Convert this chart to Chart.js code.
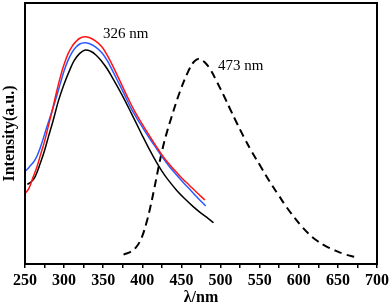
<!DOCTYPE html>
<html>
<head>
<meta charset="utf-8">
<script src="https://cdn.jsdelivr.net/npm/chart.js@4/dist/chart.umd.min.js"></script>
<style>
html,body{margin:0;padding:0;background:#fff;}
#wrap{width:392px;height:303px;}
</style>
</head>
<body>
<div id="wrap"><canvas id="c" width="392" height="303"></canvas></div>
<script>
// ---- data ----
const xTicks = [250, 300, 350, 400, 450, 500, 550, 600, 650, 700];

const redNm = [250,255,260,265,270,275,280,285,290,295,300,305,310,315,320,326,332,340,348,355,362,370,377,385,393,401,410,418,425,435,445,452,460,470,480];
const redInt = [0.27,0.29,0.33,0.37,0.42,0.47,0.53,0.59,0.655,0.715,0.765,0.805,0.833,0.852,0.865,0.871,0.868,0.855,0.833,0.80,0.76,0.71,0.665,0.615,0.57,0.53,0.487,0.45,0.418,0.38,0.347,0.325,0.302,0.273,0.245];

const blueNm = [250,255,263,270,278,285,289,295,300,305,310,315,320,326,332,340,348,355,362,370,377,385,393,401,410,418,425,435,445,452,460,470,481];
const blueInt = [0.354,0.37,0.40,0.45,0.526,0.59,0.628,0.69,0.74,0.78,0.81,0.83,0.843,0.848,0.845,0.832,0.81,0.78,0.74,0.692,0.65,0.60,0.558,0.52,0.478,0.443,0.412,0.372,0.337,0.313,0.288,0.256,0.222];

const blackNm = [253,258,263,270,275,280,286,293,300,307,313,320,327,334,341,348,355,362,370,378,386,393,400,408,418,425,432,444,455,465,475,484,491];
const blackInt = [0.305,0.315,0.335,0.39,0.435,0.488,0.55,0.628,0.69,0.742,0.78,0.807,0.82,0.815,0.80,0.777,0.748,0.712,0.67,0.625,0.577,0.535,0.492,0.445,0.39,0.356,0.326,0.282,0.248,0.22,0.195,0.175,0.158];

const dashNm = [376,386,393,399,405,410,415,420,425,430,437,448,459,466,473,480,487,495,505,512,520,530,540,550,563,575,582,590,602,612,623,635,644,658,672];
const dashInt = [0.036,0.048,0.068,0.1,0.155,0.215,0.285,0.36,0.43,0.49,0.56,0.66,0.74,0.775,0.786,0.772,0.745,0.70,0.64,0.595,0.545,0.485,0.43,0.38,0.315,0.26,0.228,0.195,0.15,0.118,0.09,0.068,0.055,0.038,0.027];

const annotationText = ['326 nm', '473 nm'];
const annotationNm = [349.7, 496.7];
const annotationInt = [0.88, 0.76];

const xTitle = 'λ/nm';
const yTitle = 'Intensity(a.u.)';

function pts(xs, ys){ return xs.map((x,i)=>({x:x, y:ys[i]})); }

const serif = "'Liberation Serif', 'Times New Roman', serif";

const framePlugin = {
  id: 'frame',
  afterDatasetsDraw(chart){
    const {ctx, chartArea:a, scales} = chart;
    ctx.save();
    ctx.strokeStyle = '#000';
    ctx.lineWidth = 2;
    ctx.strokeRect(a.left, a.top, a.right - a.left, a.bottom - a.top);
    ctx.fillStyle = '#000';
    ctx.font = '15px ' + serif;
    ctx.textAlign = 'left';
    ctx.textBaseline = 'middle';
    annotationText.forEach((t,i)=>{
      ctx.fillText(t, scales.x.getPixelForValue(annotationNm[i]), scales.y.getPixelForValue(annotationInt[i]));
    });
    ctx.restore();
  }
};

new Chart(document.getElementById('c'), {
  type: 'line',
  data: {
    datasets: [
      {data: pts(redNm, redInt), borderColor: 'rgb(255,20,20)', borderWidth: 1.5, pointRadius: 0, tension: 0.4, fill: false},
      {data: pts(blueNm, blueInt), borderColor: 'rgb(40,90,255)', borderWidth: 1.5, pointRadius: 0, tension: 0.4, fill: false},
      {data: pts(blackNm, blackInt), borderColor: '#000', borderWidth: 1.5, pointRadius: 0, tension: 0.4, fill: false},
      {data: pts(dashNm, dashInt), borderColor: '#000', borderWidth: 2, borderDash: [8,5], pointRadius: 0, tension: 0.4, fill: false}
    ]
  },
  options: {
    responsive: false,
    animation: false,
    events: [],
    layout: {padding: {top: 3, right: 15, left: 0, bottom: 0}},
    plugins: {legend: {display: false}, tooltip: {enabled: false}},
    scales: {
      x: {
        type: 'linear',
        min: xTicks[0],
        max: xTicks[xTicks.length - 1],
        afterFit(s){ s.height = 39; },
        afterBuildTicks(s){
          const t = [];
          for (let i = 0; i < xTicks.length; i++) {
            t.push({value: xTicks[i]});
            if (i < xTicks.length - 1) t.push({value: (xTicks[i] + xTicks[i+1]) / 2});
          }
          s.ticks = t;
        },
        border: {display: false},
        grid: {display: true, drawOnChartArea: false, drawTicks: true, tickLength: 4, color: '#000', lineWidth: 1.5},
        ticks: {
          autoSkip: false, maxRotation: 0, padding: 3, color: '#000',
          font: {family: serif, size: 16, weight: 'bold'},
          callback: (v) => xTicks.includes(v) ? String(v) : ''
        },
        title: {display: true, text: xTitle, color: '#000', padding: {top: 0, bottom: -4},
          font: {family: serif, size: 16, weight: 'bold'}}
      },
      y: {
        min: 0, max: 1,
        afterFit(s){ s.width = 25; },
        border: {display: false},
        grid: {display: false},
        ticks: {display: false},
        title: {display: true, text: yTitle, color: '#000', padding: {top: 0, bottom: 0},
          font: {family: serif, size: 16, weight: 'bold'}}
      }
    }
  },
  plugins: [framePlugin]
});
</script>
</body>
</html>
